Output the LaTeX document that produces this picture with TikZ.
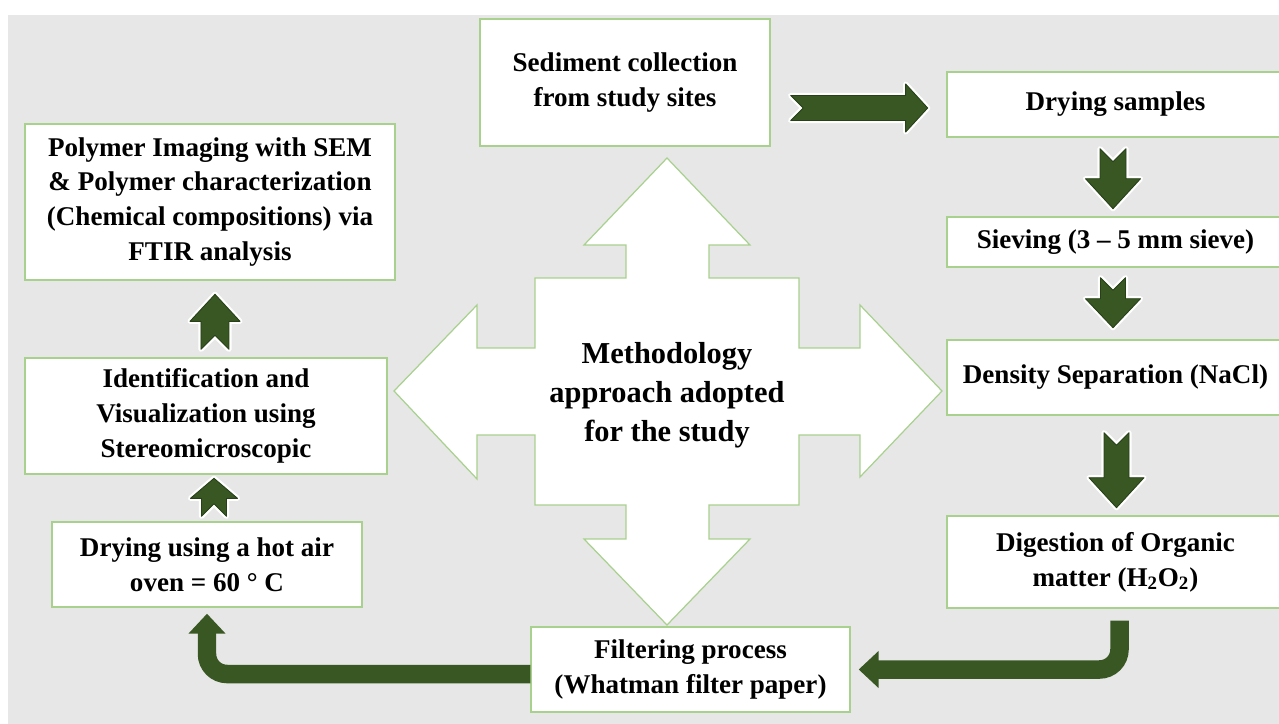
\documentclass[tikz,border=0pt]{standalone}
\usepackage{fontspec}
\setmainfont{Liberation Serif}
\usetikzlibrary{arrows.meta}

\begin{document}
\begin{tikzpicture}[
		x=0.02cm, y=-0.02cm,
		stepbox/.style={
			draw=boxline,
			fill=white,
			line width=0.8pt,
			align=center,
			inner sep=2pt,
			font=\bfseries\fontsize{15.4}{19.9}\selectfont,
		},
		hubtext/.style={
			align=center,
			font=\bfseries\fontsize{17.3}{22.2}\selectfont,
		},
		blockfill/.style={
			fill=arrowgreen,
			draw=arrowdark,
			line width=0.5pt,
			line join=round,
			preaction={draw=white, line width=3pt, line join=round},
		},
		bentarrow/.style={
			draw=arrowgreen,
			line width=0.37cm,
			rounded corners=0.4cm,
			-{Triangle[width=0.72cm, length=0.4cm]},
		},
		pics/blockarrow/.style n args={4}{code={
			\path[blockfill] (0,-#2) -- (#1-#4,-#2) -- (#1-#4,-#3) -- (#1,0)
				-- (#1-#4,#3) -- (#1-#4,#2) -- (0,#2) -- (#2,0) -- cycle;
		}},
	]

		% Teintes
		\definecolor{bggray}{RGB}{231,231,231}
		\definecolor{boxline}{RGB}{169,209,142}
		\definecolor{arrowgreen}{RGB}{56,87,35}
		\definecolor{arrowdark}{RGB}{40,64,24}

		% Cadre et fond gris
		\useasboundingbox (0,0) rectangle (1279,724);
		\clip (0,0) rectangle (1279,724);
		\fill[bggray] (8,15) rectangle (1279,724);

		% Grande croix centrale
		\draw[boxline, fill=white, line width=0.7pt]
			(667,158) -- (750,245) -- (709,245) -- (709,278) -- (799,278) -- (799,348)
			-- (860,348) -- (860,305) -- (942,391) -- (860,477) -- (860,435) -- (799,435)
			-- (799,505) -- (709,505) -- (709,539) -- (750,539) -- (667,625) -- (584,539)
			-- (626,539) -- (626,505) -- (535,505) -- (535,435) -- (477,435) -- (477,479)
			-- (394,391) -- (477,305) -- (477,348) -- (535,348) -- (535,278) -- (626,278)
			-- (626,245) -- (584,245) -- cycle;
		\node[hubtext] (hub) at (667,395) {Methodology\\approach adopted\\for the study};

		% Boites (colonne de droite)
		\node[stepbox, minimum width=5.8cm, minimum height=2.54cm] (sediment) at (625,82.5) {Sediment collection\\from study sites};
		\node[stepbox, minimum width=6.74cm, minimum height=1.3cm] (drysamp) at (1115.5,104.5) {Drying samples};
		\node[stepbox, minimum width=6.74cm, minimum height=1.0cm] (sieving) at (1115.5,242) {Sieving (3 – 5 mm sieve)};
		\node[stepbox, minimum width=6.74cm, minimum height=1.5cm] (density) at (1115.5,377.5) {Density Separation (NaCl)};
		\node[stepbox, minimum width=6.74cm, minimum height=1.84cm] (digestion) at (1115.5,562) {Digestion of Organic\\matter (H\textsubscript{2}O\textsubscript{2})};

		% Boites (bas et colonne de gauche)
		\node[stepbox, minimum width=6.38cm, minimum height=1.7cm] (filtering) at (690.5,669.5) {Filtering process\\(Whatman filter paper)};
		\node[stepbox, minimum width=6.2cm, minimum height=1.7cm] (dryoven) at (207,564.5) {Drying using a hot air\\oven = 60 ° C};
		\node[stepbox, minimum width=7.24cm, minimum height=2.32cm] (identif) at (206,416) {Identification and\\Visualization using\\Stereomicroscopic};
		\node[stepbox, minimum width=7.4cm, minimum height=3.12cm] (polymer) at (210,202) {Polymer Imaging with SEM\\\& Polymer characterization\\(Chemical compositions) via\\FTIR analysis};

		% Fleches pleines
		\pic at ([xshift=0.4cm, yshift=-0.51cm]sediment.east) {blockarrow={137}{12.5}{24}{22}};
		\pic[rotate=-90] at ([xshift=-0.05cm, yshift=-0.22cm]drysamp.south) {blockarrow={60}{13}{27.5}{30}};
		\pic[rotate=-90] at ([xshift=-0.05cm, yshift=-0.2cm]sieving.south) {blockarrow={50}{12.5}{27.5}{29}};
		\pic[rotate=-90] at ([xshift=0.02cm, yshift=-0.34cm]density.south) {blockarrow={75}{12.5}{27.5}{30}};
		\pic[rotate=90] at ([xshift=0.14cm, yshift=0.1cm]dryoven.north) {blockarrow={38}{12.5}{23.5}{20}};
		\pic[rotate=90] at ([xshift=0.18cm, yshift=0.16cm]identif.north) {blockarrow={55}{14}{25}{27}};

		% Fleches coudees
		\draw[bentarrow] ([xshift=0.08cm, yshift=-0.24cm]digestion.south) |- ([xshift=0.16cm]filtering.east);
		\draw[bentarrow] ([yshift=-0.09cm]filtering.west) -| ([yshift=-0.12cm]dryoven.south);

	\end{tikzpicture}
\end{document}
